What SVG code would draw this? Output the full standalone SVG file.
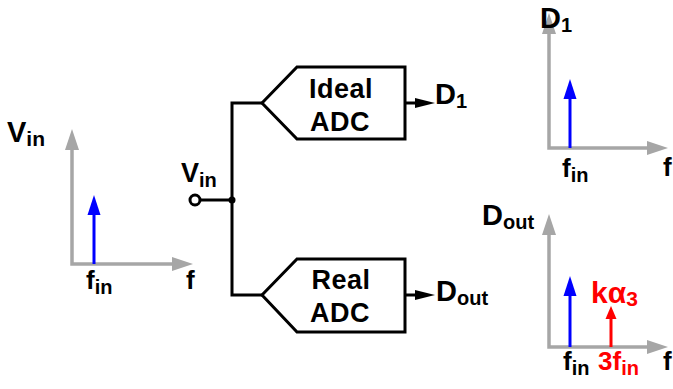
<svg xmlns="http://www.w3.org/2000/svg" width="673" height="389" viewBox="0 0 673 389">
<style>
text{font-family:"Liberation Sans",Arial,Helvetica,sans-serif;font-weight:bold;fill:#000}
.red{fill:#ff0000}
.axis{fill:none;stroke:#a6a6a6;stroke-width:3.5;marker-start:url(#ga);marker-end:url(#ga)}
.blue{stroke:#0000ff;stroke-width:3;marker-end:url(#ba)}
.redl{stroke:#ff0000;stroke-width:3;marker-end:url(#ra)}
.w{fill:none;stroke:#000;stroke-width:3}
.blk{fill:#fff;stroke:#000;stroke-width:3;stroke-linejoin:miter}
.lab{font-size:27px;letter-spacing:0.5px}
</style>
<defs>
<marker id="ga" markerUnits="userSpaceOnUse" markerWidth="22" markerHeight="14" refX="0" refY="7" orient="auto-start-reverse" viewBox="0 0 22 14"><path d="M0,0 L21,7 L0,14 z" fill="#a6a6a6"/></marker>
<marker id="ba" markerUnits="userSpaceOnUse" markerWidth="21" markerHeight="14" refX="0" refY="7" orient="auto" viewBox="0 0 21 14"><path d="M0,0.5 L20,7 L0,13.5 z" fill="#0000ff"/></marker>
<marker id="ra" markerUnits="userSpaceOnUse" markerWidth="14" markerHeight="12" refX="0" refY="6" orient="auto" viewBox="0 0 14 12"><path d="M0,0.5 L13,6 L0,11.5 z" fill="#ff0000"/></marker>
<marker id="ka" markerUnits="userSpaceOnUse" markerWidth="21" markerHeight="12" refX="0" refY="6" orient="auto" viewBox="0 0 21 12"><path d="M0,1 L20,6 L0,11 z" fill="#000"/></marker>
</defs>

<g id="spectrum-vin">
<polyline class="axis" points="72,150 72,264 172,264"/>
<line class="blue" x1="94" y1="264" x2="94" y2="215"/>
<text x="7" y="142" font-size="29">V<tspan font-size="21" dy="4">in</tspan></text>
<text x="86" y="289" font-size="26">f<tspan font-size="20" dy="5">in</tspan></text>
<text x="186" y="289" font-size="26">f</text>
</g>

<g id="input-vin">
<circle cx="195" cy="200" r="5" fill="#fff" stroke="#000" stroke-width="3"/>
<text x="181" y="182" font-size="27">V<tspan font-size="20" dy="5">in</tspan></text>
</g>

<g id="ideal-adc">
<polygon class="blk" points="262,103 297,67 405,67 405,139 297,139"/>
<text class="lab" x="341" y="98" text-anchor="middle">Ideal</text>
<text class="lab" x="340" y="131" text-anchor="middle">ADC</text>
</g>

<g id="real-adc">
<polygon class="blk" points="262,295 297,259 405,259 405,332 297,332"/>
<text class="lab" x="341" y="289" text-anchor="middle">Real</text>
<text class="lab" x="340" y="322" text-anchor="middle">ADC</text>
</g>

<g id="out-d1">
<text x="435" y="104" font-size="29">D<tspan font-size="20" dy="4">1</tspan></text>
</g>
<g id="out-dout">
<text x="436" y="301" font-size="29">D<tspan font-size="20" dy="4">out</tspan></text>
</g>

<g id="connectors">
<line class="w" x1="200" y1="200" x2="232" y2="200"/>
<polyline class="w" points="262,103 232,103 232,295 262,295"/>
<circle cx="232" cy="200" r="3.5" fill="#000"/>
<line class="w" x1="405" y1="103" x2="415" y2="103" marker-end="url(#ka)"/>
<line class="w" x1="405" y1="295" x2="415" y2="295" marker-end="url(#ka)"/>
</g>

<g id="spectrum-d1">
<polyline class="axis" points="549,34 549,148 647,148"/>
<line class="blue" x1="570" y1="148" x2="570" y2="99"/>
<text x="540" y="28" font-size="29">D<tspan font-size="20" dy="4">1</tspan></text>
<text x="562" y="177" font-size="26">f<tspan font-size="20" dy="5">in</tspan></text>
<text x="663" y="176" font-size="26">f</text>
</g>

<g id="spectrum-dout">
<polyline class="axis" points="549,235 549,347 647,347"/>
<line class="blue" x1="570" y1="347" x2="570" y2="296"/>
<line class="redl" x1="611" y1="347" x2="611" y2="319"/>
<text x="482" y="225" font-size="29">D<tspan font-size="20" dy="4">out</tspan></text>
<text class="red" x="591" y="303" font-size="30">kα<tspan font-size="21" dy="3">3</tspan></text>
<text x="563" y="370" font-size="26">f<tspan font-size="20" dy="5">in</tspan></text>
<text class="red" x="598" y="370" font-size="26">3f<tspan font-size="20" dy="5">in</tspan></text>
<text x="663" y="370" font-size="26">f</text>
</g>
</svg>
